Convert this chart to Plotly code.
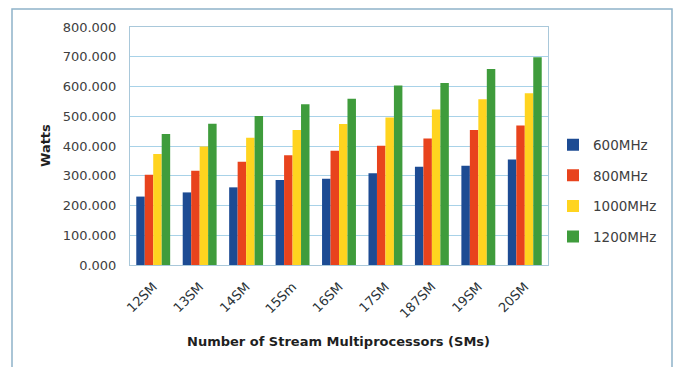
import plotly.graph_objects as go

categories = ["12SM", "13SM", "14SM", "15Sm", "16SM", "17SM", "187SM", "19SM", "20SM"]
series_names = ["600MHz", "800MHz", "1000MHz", "1200MHz"]
watts_600 = [230, 244, 261, 286, 290, 308, 330, 334, 355]
watts_800 = [303, 317, 347, 369, 384, 401, 425, 454, 469]
watts_1000 = [373, 398, 428, 454, 474, 496, 523, 557, 577]
watts_1200 = [440, 475, 501, 540, 559, 603, 612, 659, 698]
y_ticks = [0, 100, 200, 300, 400, 500, 600, 700, 800]
y_tick_labels = ["%.3f" % v for v in y_ticks]

colors = ["#1D4B93", "#E8431D", "#FFD41F", "#3F9C3C"]
all_series = [watts_600, watts_800, watts_1000, watts_1200]

fig = go.Figure()
for name, vals, col in zip(series_names, all_series, colors):
    fig.add_trace(go.Bar(x=categories, y=vals, name=name, marker_color=col,
                         marker_line_width=0, legendgroup=name))

W, H = 677, 367
L, R, T, B = 130, 548, 27, 265
pw, ph = R - L, B - T

def px(x):
    return (x - L) / pw

def py(y):
    return (B - y) / ph

fig.update_layout(
    width=W, height=H,
    margin=dict(l=L, r=W - R, t=T, b=H - B, autoexpand=False),
    paper_bgcolor="white", plot_bgcolor="white",
    barmode="group", bargap=0.27, bargroupgap=0,
    font=dict(family="DejaVu Sans", size=13, color="#404040"),
    showlegend=True,
    legend=dict(x=px(553), y=py(191), xanchor="left", yanchor="middle",
                font=dict(size=13.5, color="#404040"), tracegroupgap=10,
                itemwidth=30, bgcolor="rgba(0,0,0,0)"),
    xaxis=dict(tickangle=-45, showgrid=False, showline=True, linecolor="#A9C8DA",
               linewidth=1, mirror=True, ticks="outside", ticklen=8,
               tickcolor="rgba(0,0,0,0)", tickfont=dict(size=13, color="#2a3338")),
    yaxis=dict(range=[0, 800], tickvals=y_ticks, ticktext=y_tick_labels,
               showgrid=True, gridcolor="#A8D2E8", gridwidth=1,
               showline=True, linecolor="#A9C8DA", mirror=True,
               ticks="outside", ticklen=10, tickcolor="rgba(0,0,0,0)",
               tickfont=dict(size=13, color="#404040"), zeroline=False),
    shapes=[dict(type="rect", xref="paper", yref="paper",
                 x0=px(12), x1=px(672), y0=py(372), y1=py(9),
                 line=dict(color="#8FB3C9", width=1.5), layer="below")],
    annotations=[
        dict(text="<b>Number of Stream Multiprocessors (SMs)</b>", xref="paper", yref="paper",
             x=px(338), y=py(341), showarrow=False, xanchor="center", yanchor="middle",
             font=dict(size=13, color="#1f1f1f")),
        dict(text="<b>Watts</b>", xref="paper", yref="paper", textangle=-90,
             x=px(45), y=py(146), showarrow=False, xanchor="center", yanchor="middle",
             font=dict(size=13, color="#1f1f1f")),
    ],
)

fig.write_html("out.html")
